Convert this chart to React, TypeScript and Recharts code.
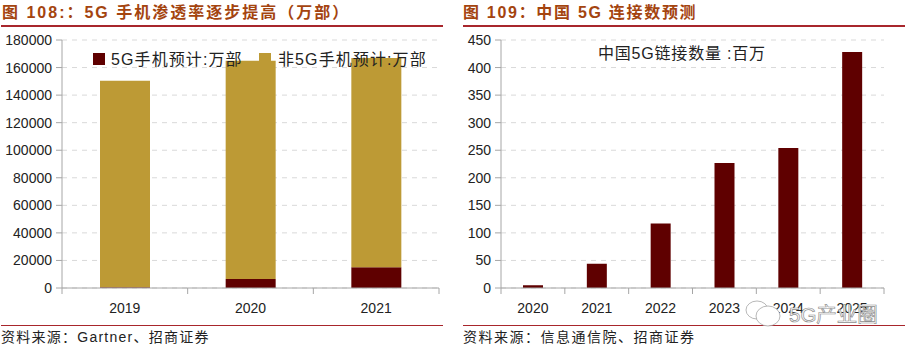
import React from "react";
import { BarChart, Bar, XAxis, YAxis, CartesianGrid, Legend } from "recharts";

const phoneYears = ["2019", "2020", "2021"];
const phone5G = [600, 6500, 15000];
const phoneNon5G = [149900, 158500, 152000];
const phoneTicks = [0, 20000, 40000, 60000, 80000, 100000, 120000, 140000, 160000, 180000];
const connYears = ["2020", "2021", "2022", "2023", "2024", "2025"];
const connValues = [5, 44, 117, 227, 254, 428];
const connTicks = [0, 50, 100, 150, 200, 250, 300, 350, 400, 450];

const phoneRows = phoneYears.map((year, i) => ({ year, a: phone5G[i], b: phoneNon5G[i] }));
const connRows = connYears.map((year, i) => ({ year, v: connValues[i] }));

const DARK = "#5f0000";
const GOLD = "#bd9a35";
const AXIS = "#a6a6a6";
const TEXT = "#222";
const LATIN = '"Liberation Sans", "Noto Sans CJK SC", sans-serif';

const BandTick = (props: any) => {
  const { x, payload, index, visibleTicksCount, band } = props;
  const left = x - band / 2;
  return (
    <g>
      <line x1={left} x2={left} y1={288} y2={294} stroke={AXIS} />
      {index === visibleTicksCount - 1 && (
        <line x1={left + band} x2={left + band} y1={288} y2={294} stroke={AXIS} />
      )}
      <text x={x} y={313} textAnchor="middle" fontSize={14} fontFamily={LATIN} fill={TEXT}>
        {payload.value}
      </text>
    </g>
  );
};

const PhoneLegend = () => (
  <div style={{ position: "relative", width: 450, height: 30, fontFamily: LATIN, fontSize: 16, color: TEXT }}>
    <span style={{ position: "absolute", left: 93, top: 6, width: 12, height: 12, background: DARK }} />
    <span style={{ position: "absolute", left: 111, top: -1, letterSpacing: 1.1, whiteSpace: "nowrap" }}>5G手机预计:万部</span>
    <span style={{ position: "absolute", left: 259, top: 6, width: 12, height: 12, background: GOLD }} />
    <span style={{ position: "absolute", left: 278, top: -1, letterSpacing: 1.1, whiteSpace: "nowrap" }}>非5G手机预计:万部</span>
  </div>
);

const ConnLegend = () => (
  <div style={{ position: "relative", width: 454, height: 26, fontFamily: LATIN, fontSize: 16, color: TEXT }}>
    <span style={{ position: "absolute", left: 143, top: 0, letterSpacing: 0.8, whiteSpace: "nowrap" }}>中国5G链接数量 :百万</span>
  </div>
);

const Title = ({ left, spacing, children }: any) => (
  <div style={{ position: "absolute", left, top: 2, fontFamily: LATIN, fontWeight: 700, fontSize: 16, lineHeight: "22px", letterSpacing: spacing, color: "#a4440f", whiteSpace: "nowrap" }}>
    {children}
  </div>
);
const Rule = ({ left, top, width }: any) => (
  <div style={{ position: "absolute", left, top, width, height: 1.5, background: "#a8262c" }} />
);
const Source = ({ left, spacing, children }: any) => (
  <div style={{ position: "absolute", left, top: 327, fontFamily: LATIN, fontSize: 14, lineHeight: "20px", letterSpacing: spacing, color: TEXT, whiteSpace: "nowrap" }}>
    {children}
  </div>
);

const yTick = { fontSize: 14, fontFamily: LATIN, fill: TEXT };

export default function App() {
  return (
    <div style={{ position: "absolute", left: 0, top: 0, width: 909, height: 353, background: "#fff", overflow: "hidden" }}>
      <Title left={2} spacing={2}>图 108:：5G 手机渗透率逐步提高（万部）</Title>
      <Title left={463} spacing={1.7}>图 109：中国 5G 连接数预测</Title>
      <Rule left={1} top={25} width={442} />
      <Rule left={463} top={25} width={442} />

      <div style={{ position: "absolute", left: 0, top: 0 }}>
        <BarChart width={450} height={320} data={phoneRows} margin={{ top: 40, right: 11, bottom: 0, left: 0 }} barSize={50}>
          <CartesianGrid vertical={false} stroke="#d9d9d9" strokeDasharray="5 5" />
          <XAxis dataKey="year" height={32} stroke={AXIS} tickLine={false} tickSize={0} tickMargin={0} interval={0} tick={<BandTick band={377 / 3} />} />
          <YAxis width={62} domain={[0, 180000]} ticks={phoneTicks} stroke={AXIS} tickSize={6} tickMargin={4} tick={yTick} interval={0} />
          <Legend layout="horizontal" align="center" verticalAlign="middle" content={<PhoneLegend />} wrapperStyle={{ left: 0, top: 47, width: 450 }} />
          <Bar dataKey="a" name="5G手机预计:万部" stackId="s" fill={DARK} isAnimationActive={false} />
          <Bar dataKey="b" name="非5G手机预计:万部" stackId="s" fill={GOLD} isAnimationActive={false} />
        </BarChart>
      </div>

      <div style={{ position: "absolute", left: 455, top: 0 }}>
        <BarChart width={454} height={320} data={connRows} margin={{ top: 40, right: 25, bottom: 0, left: 0 }} barSize={20}>
          <CartesianGrid vertical={false} stroke="#d9d9d9" strokeDasharray="5 5" />
          <XAxis dataKey="year" height={32} stroke={AXIS} tickLine={false} tickSize={0} tickMargin={0} interval={0} tick={<BandTick band={383 / 6} />} />
          <YAxis width={46} domain={[0, 450]} ticks={connTicks} stroke={AXIS} tickSize={6} tickMargin={4} tick={yTick} interval={0} />
          <Legend layout="horizontal" align="center" verticalAlign="middle" content={<ConnLegend />} wrapperStyle={{ left: 0, top: 40, width: 454 }} />
          <Bar dataKey="v" name="中国5G链接数量 :百万" fill={DARK} isAnimationActive={false} />
        </BarChart>
      </div>

      <Rule left={1} top={324.5} width={442} />
      <Rule left={463} top={324.5} width={442} />
      <Source left={1} spacing={1.25}>资料来源：Gartner、招商证券</Source>
      <Source left={463} spacing={1.5}>资料来源：信息通信院、招商证券</Source>

      <svg width={909} height={353} style={{ position: "absolute", left: 0, top: 0, pointerEvents: "none" }}>
        <g fill="#fff" stroke="#9a9a9a" strokeWidth={0.7}>
          <ellipse cx={757} cy={310} rx={11} ry={9} />
          <ellipse cx={768} cy={316} rx={12} ry={10} />
        </g>
        <text x={789} y={322} fontSize={20.5} fontFamily={LATIN} fill="#fff" stroke="#8f8f8f" strokeWidth={0.7}>5G产业圈</text>
      </svg>
    </div>
  );
}
